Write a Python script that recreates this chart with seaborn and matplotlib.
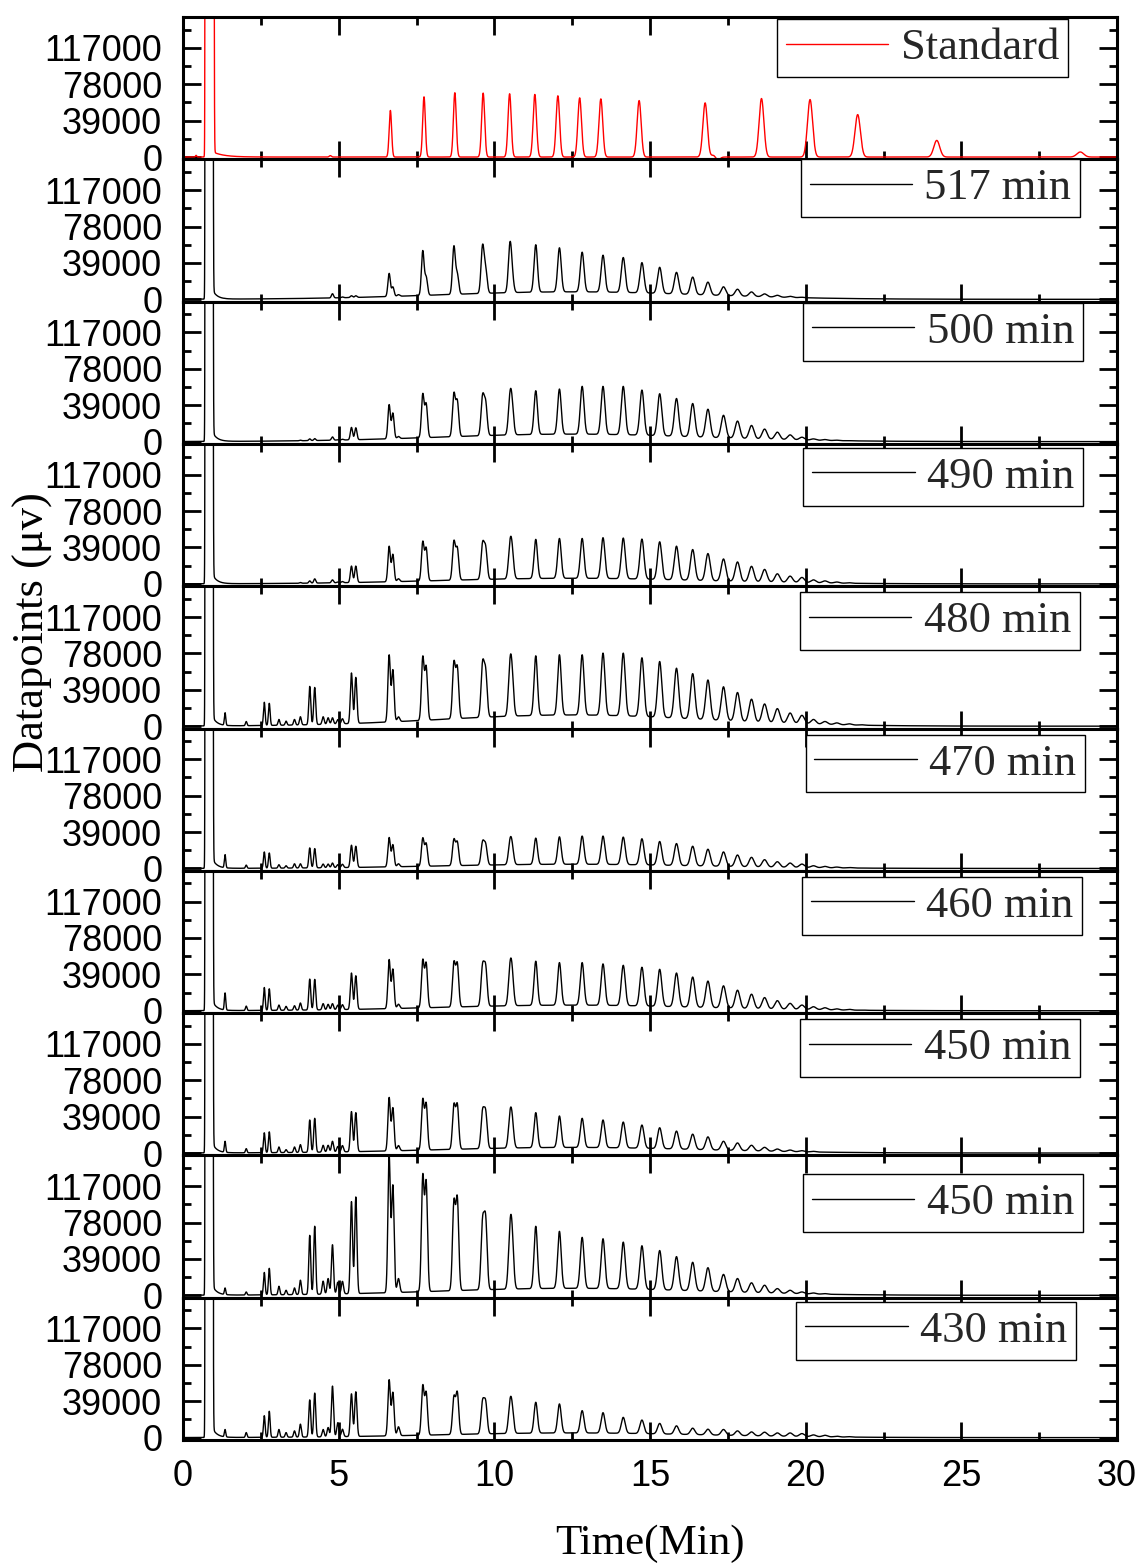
import numpy as np
import pandas as pd
import matplotlib
matplotlib.use("Agg")
import matplotlib.pyplot as plt
import seaborn as sns
from matplotlib.ticker import MultipleLocator, FixedLocator
from matplotlib.font_manager import FontProperties

# ---------------------------------------------------------------------------
# Data
# ---------------------------------------------------------------------------
panel_labels = ["Standard", "517 min", "500 min", "490 min", "480 min",
                "470 min", "460 min", "450 min", "450 min", "430 min"]

# retention times (min) of the standard peaks and their apex signal (uV)
std_times = [0.42, 4.73, 6.66, 7.74, 8.73, 9.64, 10.49, 11.30, 12.04, 12.74,
             13.42, 14.65, 16.77, 17.05, 17.17, 18.58, 20.14, 21.67, 24.21, 28.82]
std_apex = [1800, 1500, 49900, 64500, 68900, 68500, 67800, 67100, 65600, 63400,
            62300, 60500, 58000, 1500, -3000, 62700, 61600, 45500, 17800, 5400]

# retention times (min) of the sample peaks
peak_times = [1.35, 2.03, 2.61, 2.77, 3.08, 3.31, 3.58, 3.77, 4.07, 4.23,
              4.50, 4.66, 4.80, 4.97, 5.12, 5.41, 5.55, 6.62, 6.74, 6.92,
              7.70, 7.81, 8.70, 8.81, 9.62, 9.72, 10.50, 10.57, 11.33, 12.09,
              12.82, 13.49, 14.14, 14.74, 15.31, 15.85, 16.37, 16.86, 17.36, 17.81,
              18.26, 18.68, 19.09, 19.50, 19.88, 20.25, 20.62, 21.00, 21.40, 21.80]

# apex signal (uV) of every sample peak, one list per run
apex_517 = [1000, 0, 0, 0, 0, 0, 0, 0, 0, 0,
            0, 0, 6000, 1500, 2500, 3800, 3800, 27800, 13400, 5000,
            52300, 25000, 57400, 29000, 58800, 36800, 61400, 41000, 58500, 55200,
            50500, 47300, 44800, 39300, 34300, 28900, 23800, 18400, 13400, 10800,
            7900, 5800, 4300, 3200, 2200, 1500, 900, 0, 0, 0]
apex_500 = [0, 0, 0, 0, 0, 0, 0, 1500, 2900, 3200,
            0, 0, 5000, 2000, 2500, 15200, 14800, 39700, 30700, 5500,
            51600, 41500, 52700, 45100, 50900, 45100, 53400, 48000, 54500, 56300,
            59200, 59200, 59200, 55200, 51300, 46200, 40800, 34700, 28200, 22000,
            17300, 13400, 10100, 7200, 4700, 2900, 2200, 1500, 1000, 500]
apex_490 = [0, 0, 0, 0, 0, 0, 0, 1500, 3200, 5400,
            0, 0, 4300, 2000, 2500, 19100, 19100, 40400, 31800, 5500,
            45800, 39300, 46600, 39700, 45100, 41500, 46900, 44000, 47700, 48700,
            48700, 49500, 49100, 48000, 45100, 40400, 36800, 32500, 26700, 23500,
            18800, 15500, 10800, 8300, 6900, 4300, 3200, 2000, 1200, 600]
apex_480 = [14400, 5000, 25600, 24500, 7200, 5400, 7200, 10100, 42600, 41500,
            10100, 9000, 9000, 7000, 8000, 57000, 52300, 76500, 60600, 10000,
            75100, 65000, 70000, 65000, 70000, 63200, 72200, 66000, 75400, 76500,
            76500, 78300, 78300, 73300, 69300, 62100, 56300, 49500, 42200, 36100,
            28900, 23800, 18800, 14100, 11600, 7200, 5000, 3500, 2500, 1500]
apex_470 = [14800, 3600, 17700, 16600, 4000, 2900, 5000, 5000, 22000, 21300,
            4700, 4700, 5800, 4000, 4500, 24900, 23800, 33200, 25600, 5000,
            32900, 27400, 31800, 29200, 29600, 27400, 31800, 29200, 32500, 33900,
            34700, 34700, 33600, 31800, 28900, 26700, 23800, 20600, 17700, 14400,
            11900, 9400, 7200, 5800, 4700, 2900, 2200, 1500, 1000, 500]
apex_460 = [19100, 5000, 24900, 23500, 6100, 4700, 5400, 8300, 33900, 33600,
            7600, 6900, 7600, 6000, 6500, 40400, 37500, 54900, 44800, 7000,
            55200, 52000, 53100, 52000, 50900, 50200, 51600, 49000, 53100, 51600,
            51600, 50200, 48700, 46600, 44400, 40400, 36100, 31800, 26700, 22000,
            17700, 14100, 10800, 7900, 6100, 4300, 3200, 2000, 1500, 800]
apex_450a = [12600, 4700, 21700, 22700, 6500, 3600, 6500, 9000, 35400, 37200,
             8300, 8300, 12600, 7000, 8000, 44400, 43300, 59600, 48700, 8000,
             58500, 54200, 53100, 53400, 47300, 46900, 45100, 43000, 43300, 39700,
             37200, 35400, 33200, 30000, 27100, 23500, 20200, 17300, 12600, 10800,
             8300, 6100, 4300, 3200, 2500, 1800, 1000, 600, 300, 0]
apex_450b = [7900, 3600, 24500, 28900, 9700, 5400, 7900, 16200, 64300, 74000,
             15200, 18000, 54200, 14000, 15000, 100400, 105400, 150000, 118400, 18000,
             130000, 123500, 102900, 106500, 83800, 86600, 78300, 76000, 74000, 68600,
             62100, 60600, 57000, 53100, 48000, 41500, 35400, 29600, 22400, 18000,
             13400, 10800, 7200, 5400, 3600, 2500, 1800, 1000, 500, 0]
apex_430 = [8700, 5400, 23500, 28200, 8700, 5400, 7200, 14400, 40400, 47700,
            8700, 10800, 55200, 16000, 9000, 46900, 49100, 62100, 48700, 11600,
            56700, 49500, 45100, 49500, 40800, 40400, 40800, 38000, 37900, 36100,
            28900, 26700, 21700, 18800, 15200, 12600, 10100, 9000, 8700, 7200,
            6100, 5800, 5000, 5000, 4300, 2900, 2500, 1500, 1000, 500]

# level (uV) of the unresolved baseline hump of each run
hump_levels = [0, 8000, 8000, 6000, 12000, 4500, 6000, 6000, 7500, 5000]

y_ticks = [0, 39000, 78000, 117000]
x_ticks = [0, 5, 10, 15, 20, 25, 30]

# ---------------------------------------------------------------------------
# Trace construction
# ---------------------------------------------------------------------------
t = np.linspace(0, 30, 15001)


def sigmoid(x):
    return 0.5 * (1.0 + np.tanh(0.5 * x))


def peak_width(centers):
    return 0.018 + 0.0032 * np.asarray(centers, float)


def peak_matrix(tgrid, centers):
    c = np.asarray(centers, float)
    s = peak_width(c)
    return np.exp(-0.5 * ((np.asarray(tgrid)[:, None] - c[None, :]) / s[None, :]) ** 2)


def hump(tgrid, level):
    return level * np.exp(-0.5 * ((np.asarray(tgrid) - 12.5) / 4.2) ** 2)


def solvent(tgrid, t_on, t_off, tail, tau):
    tg = np.asarray(tgrid, float)
    plateau = 2.0e6 * sigmoid((tg - t_on) / 0.004) * sigmoid((t_off - tg) / 0.006)
    after = np.where(tg > t_off, tail * np.exp(-(tg - t_off) / tau), 0.0)
    return plateau + after


def build_trace(centers, apex, level, t_off, tail, tau):
    c = np.asarray(centers, float)
    a = np.asarray(apex, float)
    base_at_peaks = hump(c, level) + solvent(c, 0.71, t_off, tail, tau)
    heights = np.linalg.solve(peak_matrix(c, c), a - base_at_peaks)
    heights = np.where((a >= 0) & (heights < 0), 0.0, heights)
    return (hump(t, level) + solvent(t, 0.71, t_off, tail, tau)
            + peak_matrix(t, c) @ heights)


traces = [build_trace(std_times, std_apex, hump_levels[0], 0.99, 5000, 0.35)]
for apex, level in zip([apex_517, apex_500, apex_490, apex_480, apex_470,
                        apex_460, apex_450a, apex_450b, apex_430], hump_levels[1:]):
    traces.append(build_trace(peak_times, apex, level, 0.96, 9000, 0.15))

colors = ["#ff0000"] + ["black"] * 9

# legend placement (axes fraction) of each panel
legend_right = [0.9475, 0.9604, 0.9636, 0.9636, 0.9604, 0.9657, 0.9625, 0.9604, 0.9636, 0.9561]
legend_drop = [2, 0, 1, 4, 6, 6, 6, 6, 19, 4]

# ---------------------------------------------------------------------------
# Figure
# ---------------------------------------------------------------------------
sns.set_theme(style="ticks")
plt.rcParams["font.family"] = ["Liberation Sans", "DejaVu Sans"]
plt.rcParams["axes.linewidth"] = 2.2

fig, axes = plt.subplots(10, 1, figsize=(11.39, 15.66), dpi=100, sharex=True)
fig.subplots_adjust(left=0.1607, right=0.9807, top=0.9891, bottom=0.0805, hspace=0)

legend_font = FontProperties(family="Liberation Serif", size=32)

for i, ax in enumerate(axes):
    df = pd.DataFrame({"time": t, "signal": traces[i]})
    sns.lineplot(data=df, x="time", y="signal", ax=ax, color=colors[i],
                 linewidth=1.0, estimator=None, sort=False, label=panel_labels[i])
    ax.set_xlim(0, 30)
    ax.set_ylim(-2500, 150000)
    ax.xaxis.set_major_locator(FixedLocator(x_ticks))
    ax.xaxis.set_minor_locator(MultipleLocator(2.5))
    ax.yaxis.set_major_locator(FixedLocator(y_ticks))
    ax.yaxis.set_minor_locator(MultipleLocator(19500))
    ax.set_yticklabels([str(v) for v in y_ticks])
    ax.tick_params(which="both", direction="in", top=True, right=True,
                   width=2.0, color="black")
    ax.tick_params(which="major", length=13)
    ax.tick_params(which="minor", length=6)
    ax.tick_params(axis="y", pad=15, labelsize=26, labelcolor="black")
    ax.tick_params(axis="x", pad=14, labelsize=26, labelcolor="black")
    for sp in ax.spines.values():
        sp.set_linewidth(2.2)
        sp.set_color("black")
    ax.set_xlabel("")
    ax.set_ylabel("")
    leg = ax.legend(loc="upper right",
                    bbox_to_anchor=(legend_right[i], 1 - legend_drop[i] / 142.3),
                    borderaxespad=0, frameon=True, fancybox=False,
                    edgecolor="black", framealpha=1, prop=legend_font,
                    handlelength=2.3, handletextpad=0.28, borderpad=0.2)
    leg.get_frame().set_linewidth(1.0)
    leg.set_zorder(5)

axes[-1].set_xlabel("Time(Min)", fontfamily="Liberation Serif", fontsize=31,
                    labelpad=22, color="black")
fig.text(33 / 1139, 1 - 632 / 1566, "Datapoints (μv)", rotation=90,
         ha="center", va="center", fontfamily="Liberation Serif", fontsize=32,
         color="black")

fig.savefig("out.png", dpi=100)
